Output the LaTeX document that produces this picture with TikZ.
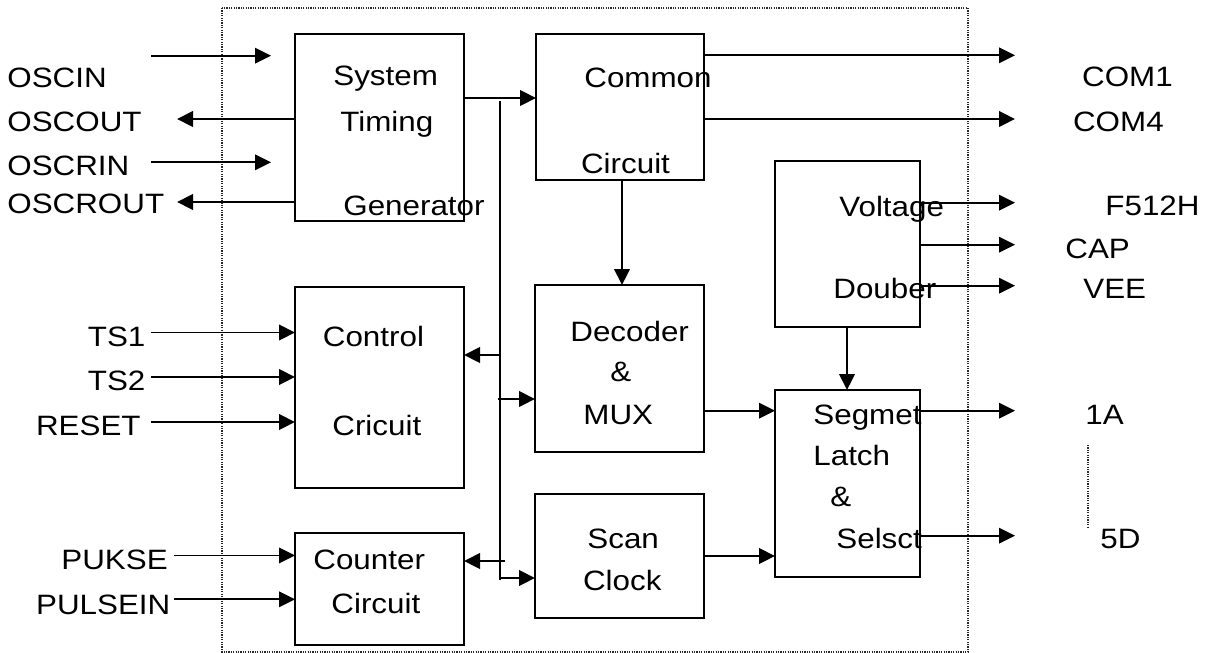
\documentclass[tikz,border=0pt]{standalone}
\usepackage{fontspec}
\setmainfont{Liberation Sans}[FakeStretch=1.12]
\usetikzlibrary{arrows.meta,positioning,calc}

\tikzset{
  blk/.style={draw, line width=0.75pt, inner sep=0pt, outer sep=0pt},
  lbl/.style={anchor=base west, inner sep=0pt, font=\fontsize{14pt}{16pt}\selectfont},
  sig/.style={line width=0.85pt, -{Triangle[length=8pt, width=7.8pt]}},
  wire/.style={line width=0.85pt},
  frame/.style={line width=0.6pt, dash pattern=on 0.6pt off 0.6pt, black!85}
}

\begin{document}
\begin{tikzpicture}[x=0.5pt, y=-0.5pt]
  \useasboundingbox (0,0) rectangle (1206,653);

  % chip outline
  \draw[frame] (222,8) rectangle (968,652);

  % blocks
  \node[blk, minimum width=84.5pt, minimum height=93.5pt] (stg) at (379.5,127.5) {};
  \node[blk, minimum width=84pt, minimum height=73pt] (com) at (620,107) {};
  \node[blk, minimum width=72.5pt, minimum height=83pt] (vdb) at (847.5,244) {};
  \node[blk, minimum width=84.5pt, minimum height=100.5pt] (ctl) at (379.5,387.5) {};
  \node[blk, minimum width=84.5pt, minimum height=56pt] (cnt) at (379.5,589) {};
  \node[blk, minimum width=84.5pt, minimum height=83.5pt] (dec) at (619.5,368.5) {};
  \node[blk, minimum width=84.5pt, minimum height=62pt] (scn) at (619.5,556) {};
  \node[blk, minimum width=72.5pt, minimum height=93.5pt] (seg) at (847.5,483.5) {};

  % block texts
  \node[lbl] (stgA) at (333,85.7) {System};
  \node[lbl] (stgB) at (340,131) {Timing};
  \node[lbl] (stgC) at (343,215) {Generator};
  \node[lbl] (comA) at (584,87.3) {Common};
  \node[lbl] (comB) at (580.7,173.3) {Circuit};
  \node[lbl] (vdbA) at (839,216) {Voltage};
  \node[lbl] (vdbB) at (833,298.3) {Douber};
  \node[lbl] (ctlA) at (322.5,346.8) {Control};
  \node[lbl] (ctlB) at (332,435) {Cricuit};
  \node[lbl] (cntA) at (313,569) {Counter};
  \node[lbl] (cntB) at (331,613.6) {Circuit};
  \node[lbl] (decA) at (570,341) {Decoder};
  \node[lbl] (decB) at (610,381.7) {\&};
  \node[lbl] (decC) at (583,424) {MUX};
  \node[lbl] (scnA) at (587,548.3) {Scan};
  \node[lbl] (scnB) at (582.7,590.7) {Clock};
  \node[lbl] (segA) at (813,424) {Segmet};
  \node[lbl] (segB) at (813,465.7) {Latch};
  \node[lbl] (segC) at (830,506.7) {\&};
  \node[lbl] (segD) at (836,548.3) {Selsct};

  % pin names
  \node[lbl] (pOscin) at (7,87) {OSCIN};
  \node[lbl] (pOscout) at (7,131) {OSCOUT};
  \node[lbl] (pOscrin) at (7,175) {OSCRIN};
  \node[lbl] (pOscrout) at (7,213) {OSCROUT};
  \node[lbl] (pTsa) at (87.5,346.8) {TS1};
  \node[lbl] (pTsb) at (87.5,390.4) {TS2};
  \node[lbl] (pReset) at (35.7,435) {RESET};
  \node[lbl] (pPukse) at (61,569) {PUKSE};
  \node[lbl] (pPulsein) at (35.7,614.6) {PULSEIN};
  \node[lbl] (pComa) at (1081.7,86.7) {COM1};
  \node[lbl] (pComd) at (1072.7,131.7) {COM4};
  \node[lbl] (pFreq) at (1105,215) {F512H};
  \node[lbl] (pCap) at (1065,258.3) {CAP};
  \node[lbl] (pVee) at (1083,298.3) {VEE};
  \node[lbl] (pSega) at (1085,424) {1A};
  \node[lbl] (pSegz) at (1100,548.3) {5D};

  % free ends
  \coordinate (inx) at (151,0);
  \coordinate (outx) at (177,0);
  \coordinate (tipx) at (271,0);
  \coordinate (rgtx) at (1015,0);
  \coordinate (feed) at (500,98);
  \coordinate (busTop) at (500,101);
  \coordinate (busEnd) at (500,580);

  % oscillator pins
  \draw[sig] (inx |- 0,55.7) -- (tipx |- 0,55.7);
  \draw[sig] (stg.west |- 0,119) -- (outx |- 0,119);
  \draw[sig] (inx |- 0,162.3) -- (tipx |- 0,162.3);
  \draw[sig] (stg.west |- 0,202) -- (outx |- 0,202);

  % control and counter inputs
  \foreach \y in {332.5,377,422}
    \draw[sig] (inx |- 0,\y) -- (ctl.west |- 0,\y);
  \foreach \y in {555.4,599.3}
    \draw[sig] (174,\y) -- (cnt.west |- 0,\y);

  % timing bus
  \draw[sig] (stg.east |- feed) -- (com.west |- feed);
  \draw[wire] (busTop) -- (busEnd);
  \draw[sig] (501,355) -- (ctl.east |- 0,355);
  \draw[sig] (497.5,399) -- (dec.west |- 0,399);
  \draw[sig] (504.6,561) -- (cnt.east |- 0,561);
  \draw[sig] (busEnd |- 0,578) -- (scn.west |- 0,578);

  % internal paths
  \draw[sig] (com.south -| 622,0) -- (dec.north -| 622,0);
  \draw[sig] (vdb.south -| 847,0) -- (seg.north -| 847,0);
  \draw[sig] (dec.east |- 0,410.7) -- (seg.west |- 0,410.7);
  \draw[sig] (scn.east |- 0,556) -- (seg.west |- 0,556);

  % outputs
  \foreach \y in {55.3,119}
    \draw[sig] (com.east |- 0,\y) -- (rgtx |- 0,\y);
  \foreach \y in {202.7,244.7,285.7}
    \draw[sig] (vdb.east |- 0,\y) -- (rgtx |- 0,\y);
  \foreach \y in {410.7,535.7}
    \draw[sig] (seg.east |- 0,\y) -- (rgtx |- 0,\y);
  \draw[frame] (1088,445) -- (1088,527);
\end{tikzpicture}
\end{document}
